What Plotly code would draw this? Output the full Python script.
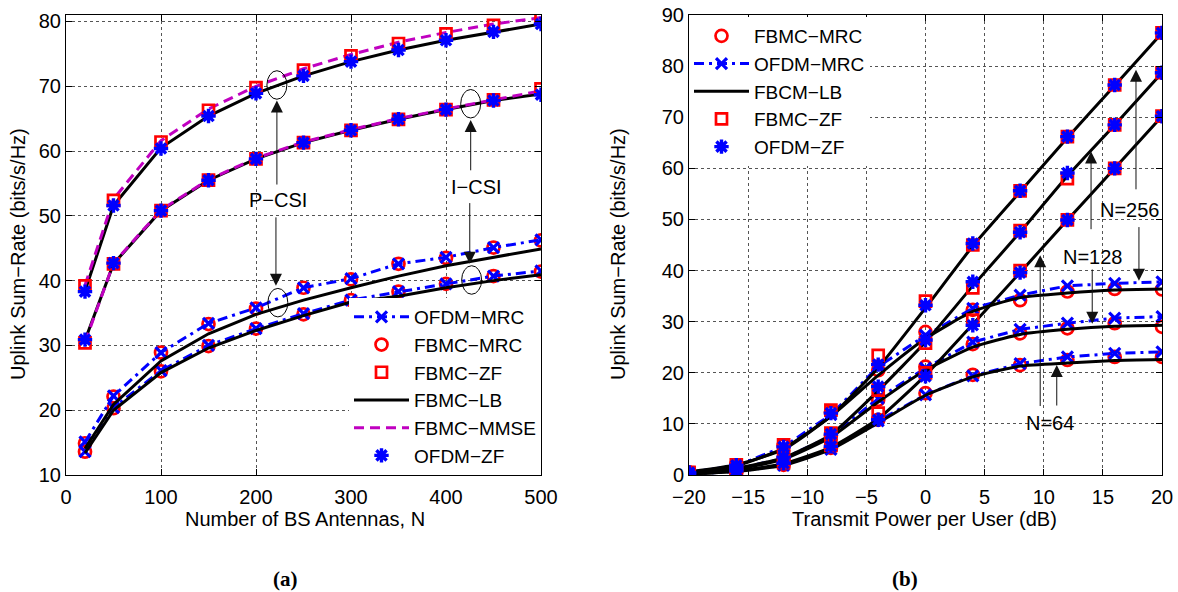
import plotly.graph_objects as go

W, H = 1178, 592

# ---------------- (a) sum-rate versus number of BS antennas ----------------
antennas = [20, 50, 100, 150, 200, 250, 300, 350, 400, 450, 500]

# perfect CSI
fbmc_zf_pcsi = [39.2, 52.4, 61.4, 66.3, 69.8, 72.5, 74.7, 76.6, 78.1, 79.4, 80.5]
ofdm_zf_pcsi = [38.3, 51.6, 60.4, 65.4, 68.9, 71.6, 73.8, 75.6, 77.1, 78.4, 79.6]
fbmc_mmse_pcsi = [39.3, 52.6, 61.6, 66.5, 70.0, 72.7, 74.9, 76.8, 78.3, 79.6, 80.6]
fbmc_lb_zf_pcsi = [38.4, 51.6, 60.5, 65.4, 68.9, 71.6, 73.8, 75.6, 77.1, 78.4, 79.6]
fbmc_mrc_pcsi = [14.9, 22.1, 28.9, 33.3, 35.7, 38.9, 40.2, 42.6, 43.5, 45.1, 46.2]
ofdm_mrc_pcsi = [15.1, 22.2, 28.9, 33.4, 35.8, 38.9, 40.3, 42.6, 43.6, 45.1, 46.3]
fbmc_lb_mrc_pcsi = [14.1, 20.9, 27.6, 31.8, 34.8, 37.0, 38.9, 40.7, 42.3, 43.6, 44.9]

# imperfect CSI
fbmc_zf_icsi = [30.4, 42.6, 50.8, 55.5, 58.8, 61.3, 63.2, 64.9, 66.4, 67.9, 69.6]
ofdm_zf_icsi = [30.9, 42.7, 50.8, 55.5, 58.8, 61.3, 63.2, 64.9, 66.4, 67.8, 68.7]
fbmc_mmse_icsi = [30.5, 42.7, 50.9, 55.6, 58.9, 61.4, 63.3, 65.0, 66.5, 67.9, 69.3]
fbmc_lb_zf_icsi = [30.8, 42.6, 50.8, 55.5, 58.8, 61.3, 63.2, 64.9, 66.4, 67.8, 68.8]
fbmc_mrc_icsi = [13.6, 20.3, 26.0, 29.9, 32.6, 34.8, 37.0, 38.3, 39.5, 40.7, 41.4]
ofdm_mrc_icsi = [13.6, 20.4, 26.1, 30.0, 32.6, 34.9, 37.0, 38.3, 39.5, 40.7, 41.5]
fbmc_lb_mrc_icsi = [13.4, 20.0, 25.8, 29.6, 32.3, 34.6, 36.7, 37.6, 38.9, 40.0, 40.9]

# ---------------- (b) sum-rate versus transmit power ----------------
power_db = [-20, -16, -12, -8, -4, 0, 4, 8, 12, 16, 20]

fbmc_mrc_64 = [0.2, 0.7, 2.0, 5.3, 10.8, 16.0, 19.6, 21.5, 22.5, 23.1, 23.1]
fbmc_mrc_128 = [0.3, 1.2, 3.3, 7.8, 14.7, 21.2, 25.6, 27.7, 28.7, 29.7, 29.0]
fbmc_mrc_256 = [0.5, 1.9, 5.8, 12.3, 20.5, 28.0, 32.3, 34.2, 35.9, 36.4, 36.3]

ofdm_mrc_64 = [0.2, 0.7, 1.9, 5.0, 10.6, 15.7, 19.4, 21.8, 23.1, 23.8, 24.1]
ofdm_mrc_128 = [0.3, 1.2, 3.2, 7.6, 15.0, 20.9, 26.0, 28.5, 29.7, 30.7, 31.0]
ofdm_mrc_256 = [0.5, 1.8, 5.5, 11.8, 21.2, 27.3, 32.6, 35.2, 37.0, 37.5, 37.8]

fbmc_lb_mrc_64 = [0.2, 0.7, 1.9, 5.0, 10.2, 15.6, 19.2, 21.3, 21.9, 22.4, 22.6]
fbmc_lb_mrc_128 = [0.3, 1.1, 3.1, 7.4, 14.3, 20.5, 25.0, 27.5, 28.5, 29.1, 29.3]
fbmc_lb_mrc_256 = [0.5, 1.8, 5.2, 11.5, 19.5, 26.7, 32.0, 34.7, 35.6, 36.2, 36.4]
fbmc_lb_zf_64 = [0.2, 0.8, 2.2, 5.4, 11.0, 19.5, 29.5, 39.6, 49.9, 60.0, 70.2]
fbmc_lb_zf_128 = [0.4, 1.3, 3.4, 7.9, 16.5, 26.0, 37.0, 47.5, 58.5, 68.5, 78.7]
fbmc_lb_zf_256 = [0.6, 2.0, 5.0, 11.5, 21.0, 32.7, 44.8, 55.4, 66.0, 76.2, 86.5]

fbmc_zf_64 = [0.2, 0.8, 2.4, 5.8, 12.1, 20.0, 30.3, 40.0, 49.9, 60.0, 70.2]
fbmc_zf_128 = [0.4, 1.3, 3.6, 8.2, 16.6, 25.8, 36.6, 47.8, 58.0, 68.5, 78.7]
fbmc_zf_256 = [0.5, 2.0, 5.9, 12.7, 23.4, 34.0, 45.0, 55.6, 66.2, 76.3, 86.5]

ofdm_zf_64 = [0.2, 0.8, 2.3, 5.6, 10.8, 19.3, 29.3, 39.6, 49.9, 60.0, 70.2]
ofdm_zf_128 = [0.4, 1.3, 3.5, 8.0, 17.3, 26.4, 37.8, 47.5, 59.1, 68.5, 78.7]
ofdm_zf_256 = [0.5, 1.9, 5.5, 12.1, 21.6, 33.2, 45.3, 55.6, 66.2, 76.3, 86.5]


def joined(*series):
    """Concatenate several curves into one trace, separated by gaps."""
    out = []
    for i, s in enumerate(series):
        if i:
            out.append(None)
        out.extend(s)
    return out


RED, BLUE, MAGENTA = "#ff0000", "#0000ff", "#c000c0"
DASHDOT = "10px,5px,3px,5px"
circle = dict(symbol="circle-open", size=12, color=RED, line=dict(width=2.7))
square = dict(symbol="square-open", size=11, color=RED, line=dict(width=2.7))
cross = dict(symbol="x-thin-open", size=11, color=BLUE, line=dict(width=3.2))
star = dict(symbol="asterisk-open", size=12, color=BLUE, line=dict(width=3.4))

fig = go.Figure()

# ---- panel (a) traces ----
xa2 = joined(antennas, antennas)
fig.add_trace(go.Scatter(x=xa2, y=joined(fbmc_mrc_pcsi, fbmc_mrc_icsi), mode="markers",
                         marker=circle, name="FBMC\u2212MRC", legend="legend", legendrank=2))
fig.add_trace(go.Scatter(x=xa2, y=joined(ofdm_mrc_pcsi, ofdm_mrc_icsi), mode="lines+markers",
                         line=dict(color=BLUE, width=3, dash=DASHDOT), marker=cross,
                         name="OFDM\u2212MRC", legend="legend", legendrank=1))
fig.add_trace(go.Scatter(x=joined(antennas, antennas, antennas, antennas),
                         y=joined(fbmc_lb_zf_pcsi, fbmc_lb_zf_icsi, fbmc_lb_mrc_pcsi, fbmc_lb_mrc_icsi),
                         mode="lines", line=dict(color="black", width=3),
                         name="FBMC\u2212LB", legend="legend", legendrank=4))
fig.add_trace(go.Scatter(x=xa2, y=joined(fbmc_mmse_pcsi, fbmc_mmse_icsi), mode="lines",
                         line=dict(color=MAGENTA, width=3, dash="10px,6px"),
                         name="FBMC\u2212MMSE", legend="legend", legendrank=5))
fig.add_trace(go.Scatter(x=xa2, y=joined(fbmc_zf_pcsi, fbmc_zf_icsi), mode="markers",
                         marker=square, name="FBMC\u2212ZF", legend="legend", legendrank=3))
fig.add_trace(go.Scatter(x=xa2, y=joined(ofdm_zf_pcsi, ofdm_zf_icsi), mode="markers",
                         marker=star, name="OFDM\u2212ZF", legend="legend", legendrank=6))

# ---- panel (b) traces ----
xb3 = joined(power_db, power_db, power_db)
fig.add_trace(go.Scatter(x=xb3, y=joined(fbmc_mrc_64, fbmc_mrc_128, fbmc_mrc_256), mode="markers",
                         marker=circle, name="FBMC\u2212MRC", xaxis="x2", yaxis="y2",
                         legend="legend2", legendrank=1))
fig.add_trace(go.Scatter(x=xb3, y=joined(ofdm_mrc_64, ofdm_mrc_128, ofdm_mrc_256), mode="lines+markers",
                         line=dict(color=BLUE, width=3, dash=DASHDOT), marker=cross,
                         name="OFDM\u2212MRC", xaxis="x2", yaxis="y2", legend="legend2", legendrank=2))
fig.add_trace(go.Scatter(x=joined(power_db, power_db, power_db, power_db, power_db, power_db),
                         y=joined(fbmc_lb_mrc_64, fbmc_lb_mrc_128, fbmc_lb_mrc_256,
                                  fbmc_lb_zf_64, fbmc_lb_zf_128, fbmc_lb_zf_256),
                         mode="lines", line=dict(color="black", width=3, shape="spline", smoothing=0.5),
                         name="FBCM\u2212LB", xaxis="x2", yaxis="y2", legend="legend2", legendrank=3))
fig.add_trace(go.Scatter(x=xb3, y=joined(fbmc_zf_64, fbmc_zf_128, fbmc_zf_256), mode="markers",
                         marker=square, name="FBMC\u2212ZF", xaxis="x2", yaxis="y2",
                         legend="legend2", legendrank=4))
fig.add_trace(go.Scatter(x=xb3, y=joined(ofdm_zf_64, ofdm_zf_128, ofdm_zf_256), mode="markers",
                         marker=star, name="OFDM\u2212ZF", xaxis="x2", yaxis="y2",
                         legend="legend2", legendrank=5))

# ---- axes ----
FONT = "Liberation Sans, Arial, sans-serif"
FS = 20
axis_style = dict(showline=True, linecolor="black", linewidth=1, mirror="ticks",
                  ticks="inside", ticklen=6, tickcolor="black", tickwidth=1,
                  showgrid=True, gridcolor="#555555", gridwidth=1, griddash="dot",
                  zeroline=False, automargin=False,
                  tickfont=dict(family=FONT, size=FS, color="black"))


def px_x(p):
    return p / W


def px_y(p):
    return (H - p) / H


fig.update_layout(
    template="none",
    xaxis=dict(domain=[px_x(66), px_x(541)], range=[0, 500], dtick=100, anchor="y",
               ticklabelstandoff=4, **axis_style),
    yaxis=dict(domain=[px_y(475), px_y(15)], range=[10, 81], dtick=10, anchor="x", **axis_style),
    xaxis2=dict(domain=[px_x(689), px_x(1162)], range=[-20, 20], dtick=5, anchor="y2",
                ticklabelstandoff=4, **axis_style),
    yaxis2=dict(domain=[px_y(475), px_y(15)], range=[0, 90], dtick=10, anchor="x2", **axis_style),
)

legend_style = dict(bgcolor="white", borderwidth=0, itemwidth=55,
                    font=dict(family=FONT, size=19, color="black"), traceorder="normal")
fig.update_layout(
    width=W, height=H, margin=dict(l=0, r=0, t=0, b=0, autoexpand=False),
    paper_bgcolor="white", plot_bgcolor="white",
    font=dict(family=FONT, size=FS, color="black"),
    showlegend=True,
    legend=dict(x=px_x(541), y=px_y(475), xanchor="right", yanchor="bottom", **legend_style),
    legend2=dict(x=px_x(689), y=px_y(17), xanchor="left", yanchor="top", **legend_style),
)

# ---- axis titles and captions ----
ann = []


def text(x, y, s, **kw):
    d = dict(x=x, y=y, text=s, showarrow=False, xref="paper", yref="paper",
             xanchor="center", yanchor="middle",
             font=dict(family=FONT, size=FS, color="black"))
    d.update(kw)
    ann.append(d)


text(px_x(305), px_y(519), "Number of BS Antennas, N")
text(px_x(924), px_y(519), "Transmit Power per User (dB)")
text(px_x(18), px_y(254), "Uplink Sum\u2212Rate (bits/s/Hz)", textangle=-90)
text(px_x(618), px_y(254), "Uplink Sum\u2212Rate (bits/s/Hz)", textangle=-90)
serif = dict(family="Liberation Serif, Times New Roman, serif", size=21, color="black")
text(px_x(285), px_y(579), "<b>(a)</b>", font=serif)
text(px_x(905), px_y(579), "<b>(b)</b>", font=serif)


# ---- in-plot labels ----
def label(x, y, s, xr, yr):
    ann.append(dict(x=x, y=y, text=s, showarrow=False, xref=xr, yref=yr,
                    xanchor="center", yanchor="middle",
                    font=dict(family=FONT, size=FS, color="black")))


def arrow(x0, y0, x1, y1, xr, yr):
    ann.append(dict(x=x1, y=y1, ax=x0, ay=y0, xref=xr, yref=yr, axref=xr, ayref=yr,
                    text="", showarrow=True, arrowhead=2, arrowsize=2.4,
                    arrowwidth=1, arrowcolor="#111111"))


label(223, 52.4, "P\u2212CSI", "x", "y")
arrow(222, 54.6, 222, 67.8, "x", "y")
arrow(221, 50.0, 221, 39.2, "x", "y")
label(432, 54.4, "I\u2212CSI", "x", "y")
arrow(426, 56.8, 426, 64.8, "x", "y")
arrow(425, 52.2, 425, 42.6, "x", "y")

label(17.3, 51.8, "N=256", "x2", "y2")
arrow(17.8, 55.6, 17.8, 79.3, "x2", "y2")
arrow(18.05, 48.8, 18.05, 38.0, "x2", "y2")
label(14.2, 42.7, "N=128", "x2", "y2")
arrow(14.0, 47.8, 14.0, 63.3, "x2", "y2")
arrow(14.1, 40.5, 14.1, 29.6, "x2", "y2")
label(10.5, 10.2, "N=64", "x2", "y2")
arrow(9.7, 13.2, 9.7, 43.0, "x2", "y2")
arrow(11.1, 13.3, 11.1, 21.5, "x2", "y2")

fig.update_layout(annotations=ann)

# ellipses marking the CSI groups
ellipses = [(211.5, 232.5, 68.0, 72.4), (212.5, 233.5, 34.4, 38.8),
            (415.5, 436.5, 65.1, 69.5), (416.5, 437.5, 37.9, 42.3)]
for x0, x1, y0, y1 in ellipses:
    fig.add_shape(type="circle", xref="x", yref="y", x0=x0, x1=x1, y0=y0, y1=y1,
                  line=dict(color="black", width=1))

fig.write_html("out.html")
